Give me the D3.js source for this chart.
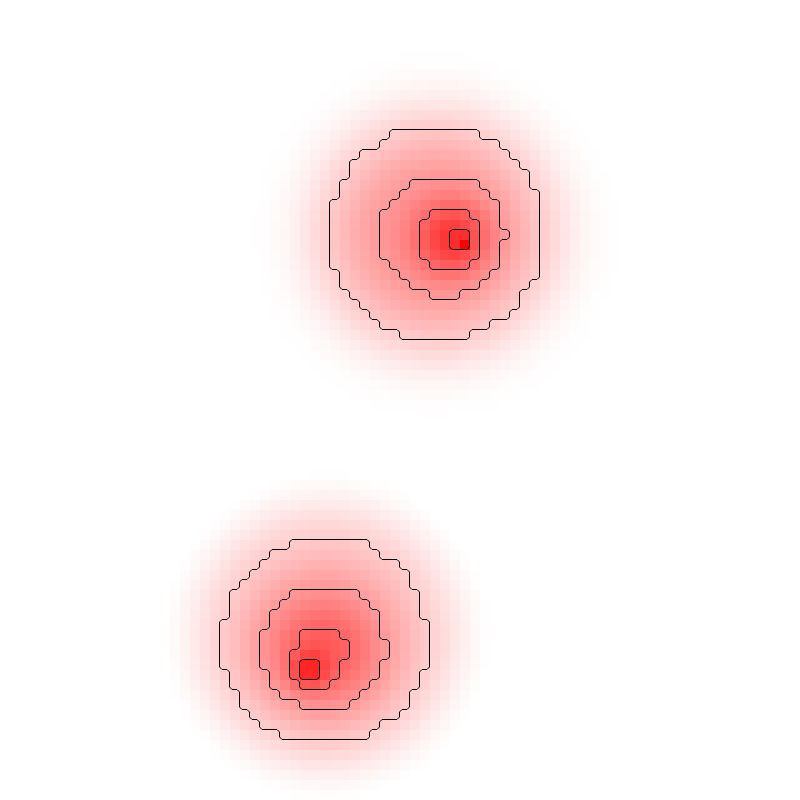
<!DOCTYPE html>
<html><head><meta charset="utf-8">
<script src="https://cdn.jsdelivr.net/npm/d3@7"></script>
<style>body{margin:0;background:#fff}svg{display:block}</style>
</head><body>
<svg id="chart" width="800" height="800"></svg>
<script>
// ---- data (grid units: the field is an 80 x 80 grid of cells) ----
const gridCols = 80;
const gridRows = 80;
// broad, compact-support component of each blob: amp * (1 - (r/radius)^p)^q
const broadCx     = [43.58, 32.64];
const broadCy     = [23.41, 63.54];
const broadRadius = [21.32, 16.48];
const broadAmp    = [0.4388, 0.2852];
const broadP      = [2.932, 2.916];
const broadQ      = [5.483, 1.722];
// gaussian components: amp * exp(-r^2 / (2 sigma^2))
const gaussCx    = [45.27, 46.37, 32.25, 30.87];
const gaussCy    = [23.87, 24.25, 65.18, 67.12];
const gaussSigma = [2.538, 0.420, 4.531, 1.144];
const gaussAmp   = [0.3731, 0.3083, 0.3736, 0.2952];
// contour levels, as fractions of the field maximum
const contourLevels = [0.2, 0.4, 0.6, 0.8];

// ---- field ----
function field(x, y) {
  let v = 0;
  for (let k = 0; k < broadCx.length; k++) {
    const r = Math.hypot(x - broadCx[k], y - broadCy[k]) / broadRadius[k];
    if (r < 1) v += broadAmp[k] * Math.pow(1 - Math.pow(r, broadP[k]), broadQ[k]);
  }
  for (let k = 0; k < gaussCx.length; k++) {
    const dx = x - gaussCx[k], dy = y - gaussCy[k], s = gaussSigma[k];
    v += gaussAmp[k] * Math.exp(-(dx * dx + dy * dy) / (2 * s * s));
  }
  return v;
}
const values = [];
for (let j = 0; j < gridRows; j++)
  for (let i = 0; i < gridCols; i++)
    values.push(field(i + 0.5, j + 0.5));
const vmax = d3.max(values);

// ---- scales ----
const width = 800, height = 800;
const x = d3.scaleLinear().domain([0, gridCols]).range([0, width]);
const y = d3.scaleLinear().domain([0, gridRows]).range([0, height]);
const color = d3.scaleLinear().domain([0, vmax]).range(["#ffffff", "#ff0000"]);

const svg = d3.select("#chart");

// heat map cells
svg.append("g")
  .selectAll("rect")
  .data(values)
  .join("rect")
  .attr("x", (d, i) => x(i % gridCols))
  .attr("y", (d, i) => y(Math.floor(i / gridCols)))
  .attr("width", x(1) - x(0))
  .attr("height", y(1) - y(0))
  .attr("fill", d => color(d))
  .attr("shape-rendering", "crispEdges");

// contours: nearest-upsampled grid so lines follow the cell edges
const F = 2;
const fw = gridCols * F, fh = gridRows * F;
const fine = new Array(fw * fh);
for (let j = 0; j < fh; j++)
  for (let i = 0; i < fw; i++)
    fine[j * fw + i] = values[Math.floor(j / F) * gridCols + Math.floor(i / F)];

const contours = d3.contours()
  .size([fw, fh])
  .smooth(false)
  .thresholds(contourLevels.map(t => t * vmax))(fine);

const proj = d3.geoTransform({
  point: function(px, py) { this.stream.point(x(px / F), y(py / F)); }
});

svg.append("g")
  .attr("transform", "translate(-0.5,-0.5)")
  .selectAll("path")
  .data(contours)
  .join("path")
  .attr("d", d3.geoPath(proj))
  .attr("fill", "none")
  .attr("stroke", "#000")
  .attr("stroke-width", 1)
  .attr("stroke-linejoin", "round");
</script></body></html>
